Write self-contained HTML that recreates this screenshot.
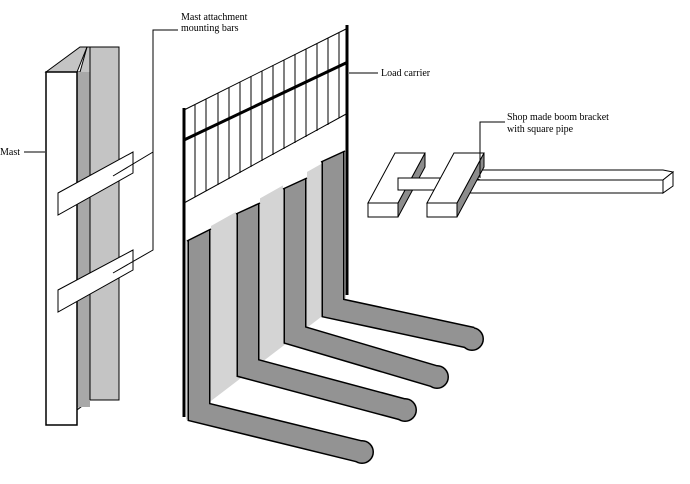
<!DOCTYPE html>
<html><head><style>body{margin:0;background:#fff}svg{display:block}text{font-family:"Liberation Serif",serif;font-size:10px;fill:#000}</style></head>
<body>
<svg width="690" height="484" viewBox="0 0 690 484" xmlns="http://www.w3.org/2000/svg">
<!-- Mast -->
<text x="0" y="155">Mast</text>
<line x1="24" y1="152" x2="45" y2="152" stroke="#000"/>
<polygon points="77,72 80,72 87,47 119,47 119,400 90,400 77,410" fill="#c4c4c4" stroke="#000"/>
<rect x="77" y="72" width="13" height="335" fill="#a8a8a8"/>
<line x1="90" y1="47" x2="90" y2="400" stroke="#000"/>
<polygon points="46,72 80,47 87,47 77,72" fill="#c4c4c4" stroke="#000"/>
<rect x="46" y="72" width="31" height="353" fill="#fff" stroke="#000" stroke-width="1.5"/>
<polygon points="58,193 133,152 133,173 58,215" fill="#fff" stroke="#000"/>
<polygon points="58,290 133,250 133,270 58,312" fill="#fff" stroke="#000"/>
<polyline points="113,176 153,152 153,30 178,30" fill="none" stroke="#000"/>
<polyline points="113,273 153,250 153,152" fill="none" stroke="#000"/>
<text x="181" y="20">Mast attachment</text>
<text x="181" y="31">mounting bars</text>
<!-- Load carrier -->
<polygon points="186,240 346,150 346,298 186,420" fill="#d4d4d4"/>
<g stroke="#000" stroke-width="1">
<line x1="184" y1="110" x2="348" y2="28"/>
<line x1="184" y1="203" x2="348" y2="113"/>
<line x1="195" y1="105" x2="195" y2="197"/><line x1="206" y1="99" x2="206" y2="191"/><line x1="218" y1="93" x2="218" y2="185"/><line x1="229" y1="88" x2="229" y2="179"/><line x1="240" y1="82" x2="240" y2="173"/><line x1="251" y1="76" x2="251" y2="167"/><line x1="262" y1="71" x2="262" y2="161"/><line x1="273" y1="65" x2="273" y2="155"/><line x1="284" y1="60" x2="284" y2="149"/><line x1="295" y1="54" x2="295" y2="143"/><line x1="306" y1="49" x2="306" y2="137"/><line x1="317" y1="43" x2="317" y2="131"/><line x1="328" y1="38" x2="328" y2="125"/><line x1="339" y1="33" x2="339" y2="118"/>
</g>
<line x1="184" y1="140" x2="348" y2="62" stroke="#000" stroke-width="3"/>
<!-- forks -->
<g fill="none">
<polyline points="333,140 333,308 472,338" stroke="#000" stroke-width="23"/>
<circle cx="472" cy="339" r="12" fill="#000"/><circle cx="472" cy="339" r="10.5" fill="#939393"/>
<polyline points="333,141 333,308 472,338" stroke="#939393" stroke-width="20"/>
<polygon points="321,139 345,139 345,151 321,162" fill="#fff"/>
<line x1="321" y1="162" x2="345" y2="151" stroke="#000" stroke-width="1.5"/>
<polyline points="295,167 295,335 437,377" stroke="#000" stroke-width="23"/>
<circle cx="437" cy="377" r="12" fill="#000"/><circle cx="437" cy="377" r="10.5" fill="#939393"/>
<polyline points="295,168 295,335 437,377" stroke="#939393" stroke-width="20"/>
<polygon points="283,166 307,166 307,178 283,189" fill="#fff"/>
<line x1="283" y1="189" x2="307" y2="178" stroke="#000" stroke-width="1.5"/>
<polyline points="248,192 248,368 405,410" stroke="#000" stroke-width="23"/>
<circle cx="405" cy="410" r="12" fill="#000"/><circle cx="405" cy="410" r="10.5" fill="#939393"/>
<polyline points="248,193 248,368 405,410" stroke="#939393" stroke-width="20"/>
<polygon points="236,191 260,191 260,203 236,214" fill="#fff"/>
<line x1="236" y1="214" x2="260" y2="203" stroke="#000" stroke-width="1.5"/>
<polyline points="199,218 199,412 362,452" stroke="#000" stroke-width="23"/>
<circle cx="362" cy="452" r="12" fill="#000"/><circle cx="362" cy="452" r="10.5" fill="#939393"/>
<polyline points="199,219 199,412 362,452" stroke="#939393" stroke-width="20"/>
<polygon points="187,217 211,217 211,229 187,241" fill="#fff"/>
<line x1="187" y1="241" x2="211" y2="229" stroke="#000" stroke-width="1.5"/>
</g>
<line x1="184" y1="108" x2="184" y2="417" stroke="#000" stroke-width="3"/>
<line x1="347" y1="25" x2="347" y2="295" stroke="#000" stroke-width="3"/>
<line x1="349" y1="73" x2="378" y2="73" stroke="#000"/>
<text x="381" y="76">Load carrier</text>
<!-- bracket -->
<polygon points="398,203 425,153 425,167 398,217" fill="#8c8c8c" stroke="#000"/>
<polygon points="368,203 398,203 425,153 395,153" fill="#fff" stroke="#000"/>
<rect x="368" y="203" width="30" height="14" fill="#fff" stroke="#000"/>
<polygon points="398,178 440,178 440,190 398,190" fill="#fff" stroke="#000"/>
<polygon points="458,170 663,170 673,172 663,180 480,180" fill="#fff" stroke="#000"/>
<rect x="470" y="180" width="193" height="13" fill="#fff" stroke="#000"/>
<polygon points="663,180 673,172 673,186 663,193" fill="#fff" stroke="#000"/>
<polygon points="457,203 484,153 484,167 457,217" fill="#8c8c8c" stroke="#000"/>
<polygon points="427,203 457,203 484,153 454,153" fill="#fff" stroke="#000"/>
<rect x="427" y="203" width="30" height="14" fill="#fff" stroke="#000"/>
<polyline points="480,178 480,122 505,122" fill="none" stroke="#000"/>
<text x="507" y="120">Shop made boom bracket</text>
<text x="507" y="132">with square pipe</text>
</svg>
</body></html>
